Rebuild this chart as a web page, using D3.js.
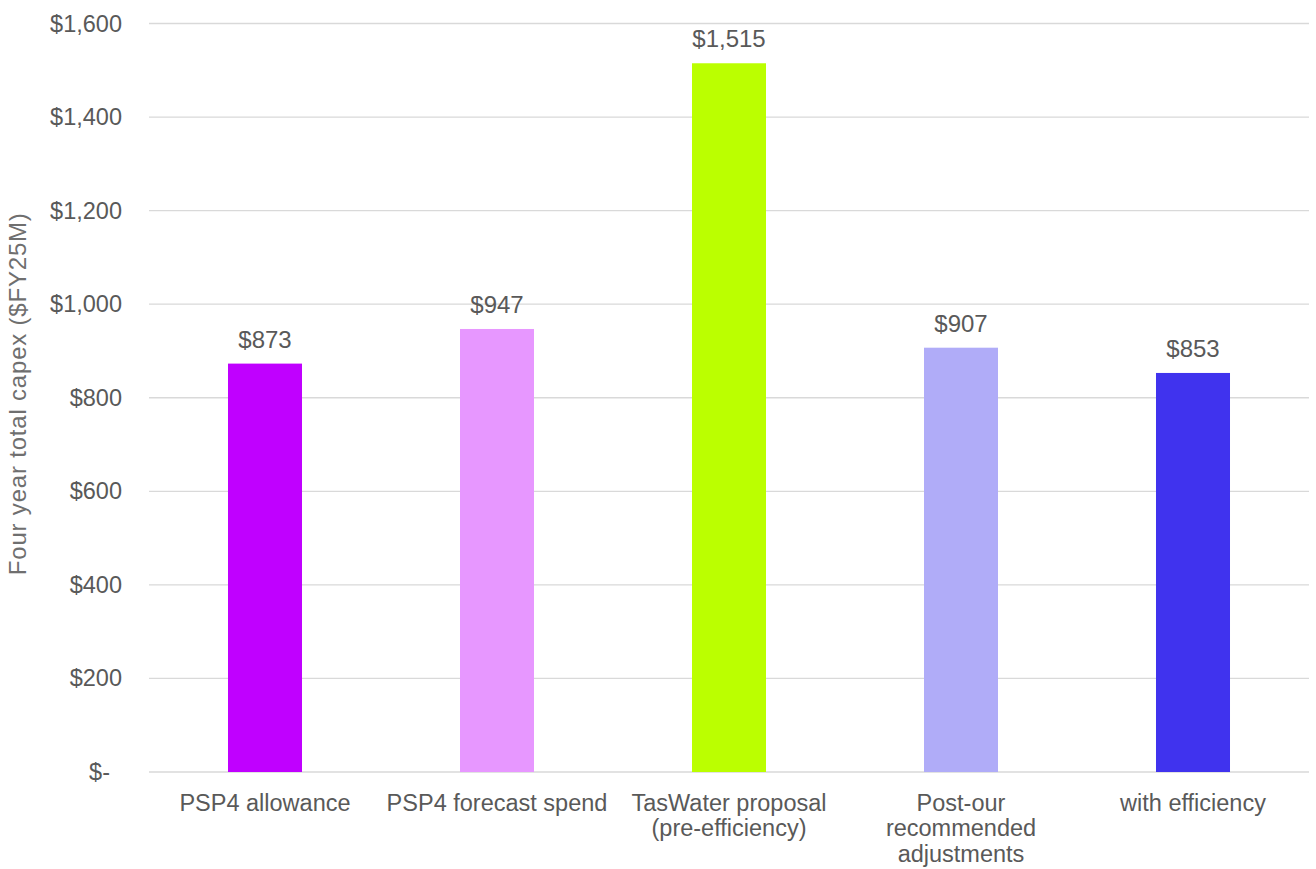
<!DOCTYPE html>
<html>
<head>
<meta charset="utf-8">
<script src="https://cdn.jsdelivr.net/npm/d3@7"></script>
<style>
  html, body { margin: 0; padding: 0; background: #ffffff; }
  svg { display: block; }
  text { font-family: "Liberation Sans", Arial, sans-serif; fill: #595959; }
</style>
</head>
<body>
<svg id="chart" width="1316" height="869"></svg>
<script>
// Four-year total capex comparison ($FY25M)
const categories = [
  ["PSP4 allowance"],
  ["PSP4 forecast spend"],
  ["TasWater proposal", "(pre-efficiency)"],
  ["Post-our", "recommended", "adjustments"],
  ["with efficiency"]
];
const values = [873, 947, 1515, 907, 853];
const barColors = ["#C000FF", "#E797FF", "#BBFF00", "#B0ACF8", "#4033EE"];
const yTicks = [0, 200, 400, 600, 800, 1000, 1200, 1400, 1600];
const yTitle = "Four year total capex ($FY25M)";

const svg = d3.select("#chart");
const margin = { top: 23.5, right: 7, bottom: 97, left: 149 };
const W = 1316, H = 869;
const innerW = W - margin.left - margin.right;
const innerH = H - margin.top - margin.bottom;

const g = svg.append("g").attr("transform", `translate(${margin.left},${margin.top})`);

const x = d3.scaleBand()
  .domain(d3.range(values.length))
  .range([0, innerW])
  .paddingInner(0.681)
  .paddingOuter(0.3405);

const y = d3.scaleLinear().domain([0, 1600]).range([innerH, 0]);

const fmtMoney = v => v === 0 ? "$-" : "$" + d3.format(",")(v);

// Horizontal gridlines
g.append("g")
  .selectAll("line")
  .data(yTicks)
  .join("line")
  .attr("x1", 0).attr("x2", innerW)
  .attr("y1", d => y(d)).attr("y2", d => y(d))
  .attr("stroke", "#d9d9d9")
  .attr("stroke-width", 1.3);

// Y axis tick labels
const yAxis = d3.axisLeft(y).tickValues(yTicks).tickSize(0).tickPadding(27).tickFormat(fmtMoney);
const yG = g.append("g").call(yAxis);
yG.select(".domain").remove();
yG.selectAll("text")
  .attr("font-size", "23.5px")
  .attr("fill", "#595959")
  .attr("font-family", "Liberation Sans, Arial, sans-serif")
  .attr("dx", d => d === 0 ? -12 : 0);

// Bars
g.append("g")
  .selectAll("rect")
  .data(values)
  .join("rect")
  .attr("x", (d, i) => x(i))
  .attr("y", d => y(d))
  .attr("width", x.bandwidth())
  .attr("height", d => y(0) - y(d))
  .attr("fill", (d, i) => barColors[i]);

// Value labels
g.append("g")
  .selectAll("text")
  .data(values)
  .join("text")
  .attr("x", (d, i) => x(i) + x.bandwidth() / 2)
  .attr("y", d => y(d) - 16)
  .attr("text-anchor", "middle")
  .attr("font-size", "24px")
  .text(d => fmtMoney(d));

// Category labels (multi-line)
const cat = g.append("g")
  .selectAll("text")
  .data(categories)
  .join("text")
  .attr("x", (d, i) => x(i) + x.bandwidth() / 2)
  .attr("y", innerH + 38.5)
  .attr("text-anchor", "middle")
  .attr("font-size", "23.5px");
cat.selectAll("tspan")
  .data(d => d)
  .join("tspan")
  .attr("x", function () { return d3.select(this.parentNode).attr("x"); })
  .attr("dy", (d, j) => j === 0 ? 0 : 25.5)
  .text(d => d);

// Y axis title
svg.append("text")
  .attr("transform", `translate(26,${margin.top + innerH / 2 - 4}) rotate(-90)`)
  .attr("text-anchor", "middle")
  .attr("font-size", "24px")
  .attr("letter-spacing", "0.8px")
  .attr("fill", "#6f6f6f")
  .style("fill", "#6f6f6f")
  .text(yTitle);
</script>
</body>
</html>
